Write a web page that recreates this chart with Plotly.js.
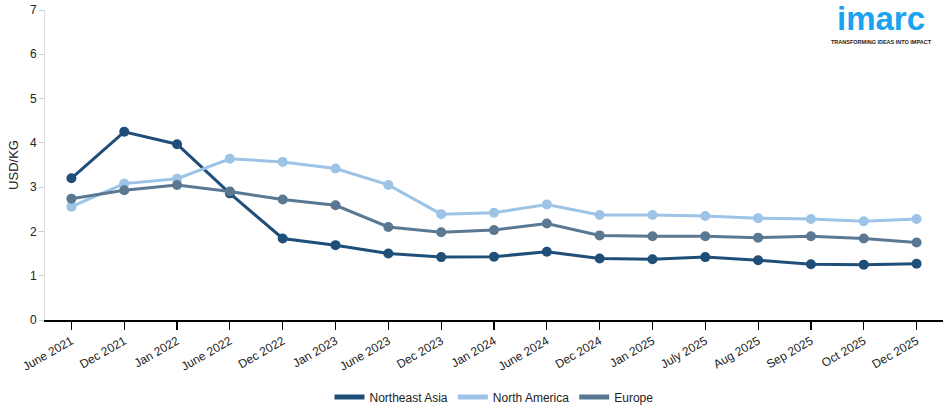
<!DOCTYPE html>
<html>
<head>
<meta charset="utf-8">
<script src="https://cdn.plot.ly/plotly-3.0.1.min.js"></script>
<style>html,body{margin:0;padding:0;background:#fff;}#chart{width:950px;height:414px;}</style>
</head>
<body>
<div id="chart"></div>
<script>
const categories = ["June 2021","Dec 2021","Jan 2022","June 2022","Dec 2022","Jan 2023","June 2023","Dec 2023","Jan 2024","June 2024","Dec 2024","Jan 2025","July 2025","Aug 2025","Sep 2025","Oct 2025","Dec 2025"];
const northeastAsia = [3.20,4.25,3.97,2.86,1.84,1.69,1.50,1.42,1.43,1.54,1.39,1.37,1.42,1.35,1.26,1.25,1.27];
const northAmerica = [2.56,3.08,3.19,3.64,3.57,3.42,3.05,2.39,2.42,2.61,2.37,2.37,2.35,2.30,2.28,2.23,2.28];
const europe = [2.74,2.93,3.05,2.90,2.72,2.59,2.10,1.98,2.03,2.18,1.91,1.89,1.89,1.86,1.89,1.84,1.75];

const seriesNames = ["Northeast Asia","North America","Europe"];
const seriesData = [northeastAsia, northAmerica, europe];
const colors = ["#1f4e79","#9dc3e6","#5b7893"];

const traces = [];
seriesData.forEach((vals, i) => {
  traces.push({
    x: categories, y: vals, type: "scatter", mode: "lines+markers",
    name: seriesNames[i], showlegend: false,
    line: {color: colors[i], width: 3},
    marker: {color: colors[i], size: 10}
  });
});
seriesData.forEach((vals, i) => {
  traces.push({
    x: [null], y: [null], type: "scatter", mode: "lines",
    name: seriesNames[i], showlegend: true,
    line: {color: colors[i], width: 5}
  });
});

const layout = {
  width: 950, height: 414,
  margin: {l: 45, r: 7, t: 10, b: 94},
  paper_bgcolor: "#fff", plot_bgcolor: "#fff",
  font: {family: "Liberation Sans, Arial, sans-serif", size: 12, color: "#222"},
  showlegend: true,
  legend: {orientation: "h", x: 0.5, xanchor: "center", yref: "container", y: 0.041, yanchor: "middle",
           font: {size: 12, color: "#222"}, itemwidth: 30, tracegroupgap: 0},
  xaxis: {
    type: "category", range: [-0.5, 16.5], showgrid: false, zeroline: false, automargin: false,
    showline: true, linecolor: "#000", linewidth: 1.5,
    ticks: "outside", ticklen: 8, tickcolor: "#000", tickwidth: 1.2,
    tickangle: -30, tickfont: {size: 12, color: "#222"}, fixedrange: true
  },
  yaxis: {
    range: [0, 7], dtick: 1, showgrid: false, zeroline: false, automargin: false,
    showline: true, linecolor: "#ddd", linewidth: 1,
    ticks: "outside", ticklen: 5, tickcolor: "#ccc",
    tickfont: {size: 12, color: "#222"},
    title: {text: "USD/KG", font: {size: 13, color: "#222"}, standoff: 8}
  },
  annotations: [
    {xref: "paper", yref: "paper", x: 0.931, y: 0.911, xanchor: "center", yanchor: "bottom", borderpad: 0,
     text: "<b>imarc</b>", showarrow: false, font: {family: "Liberation Sans, Arial, sans-serif", size: 33, color: "#1aa3f0"}},
    {xref: "paper", yref: "paper", x: 0.931, y: 0.909, xanchor: "center", yanchor: "top", borderpad: 0,
     text: "<b>TRANSFORMING IDEAS INTO IMPACT</b>", showarrow: false, font: {family: "Liberation Sans, Arial, sans-serif", size: 5.5, color: "#222"}}
  ]
};

Plotly.newPlot("chart", traces, layout, {displayModeBar: false, staticPlot: true});
</script>
</body>
</html>
